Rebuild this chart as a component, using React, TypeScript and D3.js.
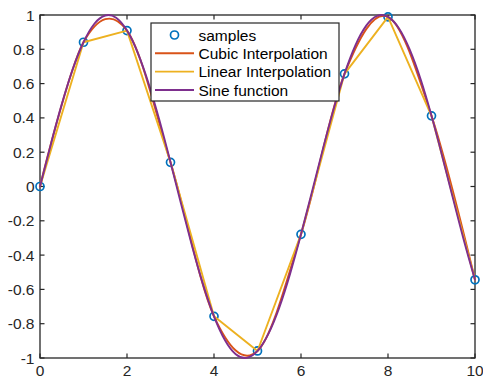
import React from "react";
import * as d3 from "d3";

const sampleX = [0, 1, 2, 3, 4, 5, 6, 7, 8, 9, 10];
const sampleY = [0, 0.841, 0.909, 0.141, -0.757, -0.959, -0.279, 0.657, 0.989, 0.412, -0.544];

const sineX = [0, 0.25, 0.5, 0.75, 1, 1.25, 1.5, 1.75, 2, 2.25, 2.5, 2.75, 3, 3.25, 3.5, 3.75, 4, 4.25, 4.5, 4.75, 5, 5.25, 5.5, 5.75, 6, 6.25, 6.5, 6.75, 7, 7.25, 7.5, 7.75, 8, 8.25, 8.5, 8.75, 9, 9.25, 9.5, 9.75, 10];
const sineY = [0, 0.247, 0.479, 0.682, 0.841, 0.949, 0.997, 0.984, 0.909, 0.778, 0.598, 0.382, 0.141, -0.108, -0.351, -0.572, -0.757, -0.895, -0.978, -0.999, -0.959, -0.859, -0.706, -0.508, -0.279, -0.033, 0.215, 0.451, 0.657, 0.823, 0.938, 0.995, 0.989, 0.923, 0.798, 0.625, 0.412, 0.174, -0.075, -0.319, -0.544];

const xTicks = [0, 2, 4, 6, 8, 10];
const yTicks = [-1, -0.8, -0.6, -0.4, -0.2, 0, 0.2, 0.4, 0.6, 0.8, 1];
const legendLabels = ["samples", "Cubic Interpolation", "Linear Interpolation", "Sine function"];

const C_BLUE = "#0072BD";
const C_ORANGE = "#D95319";
const C_YELLOW = "#EDB120";
const C_PURPLE = "#7E2F8E";
const AX = "#262626";
const FONT = "'Liberation Sans', Arial, Helvetica, sans-serif";

export default function App() {
  const W = 483, H = 379;
  const L = 40, R = 475, T = 15, B = 358;
  const x = d3.scaleLinear().domain([0, 10]).range([L, R]);
  const y = d3.scaleLinear().domain([-1, 1]).range([B, T]);

  const samples = sampleX.map((v, i) => [v, sampleY[i]] as [number, number]);
  const sine = sineX.map((v, i) => [v, sineY[i]] as [number, number]);

  const linear = d3.line<[number, number]>().x(d => x(d[0])).y(d => y(d[1]));
  const cubic = d3.line<[number, number]>().x(d => x(d[0])).y(d => y(d[1])).curve(d3.curveCardinal.tension(0));
  const smooth = d3.line<[number, number]>().x(d => x(d[0])).y(d => y(d[1])).curve(d3.curveNatural);

  const tickLen = 4.5;
  const lw = 1.9;
  const fs = 15.5;

  const lgX = 151, lgY = 23, lgW = 188, lgH = 78;
  const rowY = [35, 53.3, 71.6, 90];
  const legendColors = [C_BLUE, C_ORANGE, C_YELLOW, C_PURPLE];

  return (
    <svg width={W} height={H} style={{ position: "absolute", left: 0, top: 0, display: "block" }}>
      <rect x={0} y={0} width={W} height={H} fill="#fff" />
      {/* ticks */}
      {xTicks.map(t => (
        <g key={"xt" + t}>
          <line x1={x(t)} x2={x(t)} y1={B} y2={B - tickLen} stroke={AX} strokeWidth={1.2} />
          <line x1={x(t)} x2={x(t)} y1={T} y2={T + tickLen} stroke={AX} strokeWidth={1.2} />
          <text x={x(t)} y={375.5} textAnchor="middle" fontFamily={FONT} fontSize={fs} fill={AX}>{t}</text>
        </g>
      ))}
      {yTicks.map(t => (
        <g key={"yt" + t}>
          <line x1={L} x2={L + tickLen} y1={y(t)} y2={y(t)} stroke={AX} strokeWidth={1.2} />
          <line x1={R} x2={R - tickLen} y1={y(t)} y2={y(t)} stroke={AX} strokeWidth={1.2} />
          <text x={34.5} y={y(t)} dy="0.36em" textAnchor="end" fontFamily={FONT} fontSize={fs} fill={AX}>{t}</text>
        </g>
      ))}
      <rect x={L} y={T} width={R - L} height={B - T} fill="none" stroke={AX} strokeWidth={1.3} />

      {/* data */}
      <g fill="none" strokeLinejoin="round" strokeLinecap="round">
        {samples.map((d, i) => (
          <circle key={"s" + i} cx={x(d[0])} cy={y(d[1])} r={4} stroke={C_BLUE} strokeWidth={1.7} fill="none" />
        ))}
        <path d={cubic(samples) || ""} stroke={C_ORANGE} strokeWidth={lw} />
        <path d={linear(samples) || ""} stroke={C_YELLOW} strokeWidth={lw} />
        <path d={smooth(sine) || ""} stroke={C_PURPLE} strokeWidth={lw} />
      </g>

      {/* legend */}
      <rect x={lgX} y={lgY} width={lgW} height={lgH} fill="#fff" stroke={AX} strokeWidth={1.2} />
      {legendLabels.map((lab, i) => (
        <g key={"lg" + i}>
          {i === 0 ? (
            <circle cx={174.5} cy={rowY[i]} r={4} stroke={C_BLUE} strokeWidth={1.7} fill="none" />
          ) : (
            <line x1={155} x2={194} y1={rowY[i]} y2={rowY[i]} stroke={legendColors[i]} strokeWidth={lw} />
          )}
          <text x={198.5} y={rowY[i]} dy="0.36em" fontFamily={FONT} fontSize={fs} fill="#000">{lab}</text>
        </g>
      ))}
    </svg>
  );
}
